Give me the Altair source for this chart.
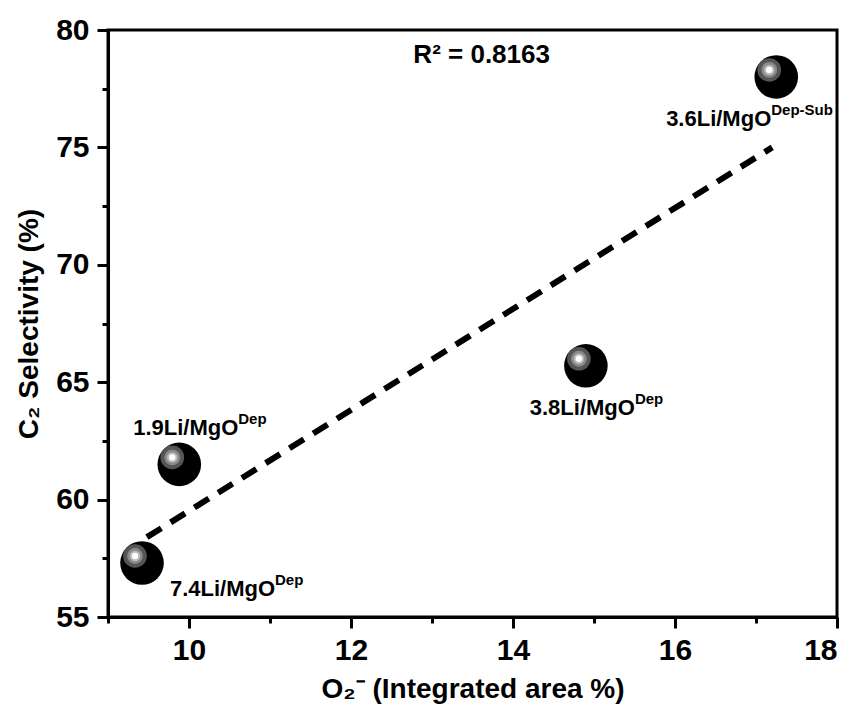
import altair as alt
import pandas as pd

# data
names = ["3.6Li/MgO", "3.8Li/MgO", "1.9Li/MgO", "7.4Li/MgO"]
sups = ["Dep-Sub", "Dep", "Dep", "Dep"]
x_vals = [17.25, 14.9, 9.88, 9.42]
y_vals = [78.0, 65.7, 61.5, 57.3]
# label offsets (px) relative to the point: right edge of the main text, baseline
lab_dx = [-5, 49, 59, 133]
lab_dy = [49, 49, -29, 33]

fit_x = [9.48, 17.2]
fit_y = [58.4, 75.0]

r2_text = ["R² = 0.8163"]
r2_x = [12.77]
r2_y = [78.6]

x_ticks = [9, 10, 11, 12, 13, 14, 15, 16, 17, 18]
y_ticks = [55, 57.5, 60, 62.5, 65, 67.5, 70, 72.5, 75, 77.5, 80]

pts = pd.DataFrame({"name": names, "sup": sups, "x": x_vals, "y": y_vals})
fit = pd.DataFrame({"x": fit_x, "y": fit_y})
r2 = pd.DataFrame({"t": r2_text, "x": r2_x, "y": r2_y})

FONT = "Liberation Sans"

xscale = alt.Scale(domain=[9, 18], nice=False, zero=False)
yscale = alt.Scale(domain=[55, 80], nice=False, zero=False)

xaxis = alt.Axis(
    values=x_ticks, format="d",
    labelExpr="datum.value % 2 === 0 ? datum.label : ''",
    tickSize={"condition": {"test": "datum.value % 2 === 0", "value": 11}, "value": 6},
    tickWidth=3, tickColor="black", domainColor="black", domainWidth=3,
    labelFont=FONT, labelFontSize=30, labelFontWeight="bold", labelColor="black",
    labelPadding=7, grid=False,
    title="O₂⁻ (Integrated area %)", titleFont=FONT, titleFontSize=28,
    titleFontWeight="bold", titleColor="black", titlePadding=10,
)
yaxis = alt.Axis(
    values=y_ticks,
    labelExpr="datum.value % 5 === 0 ? datum.label : ''",
    tickSize={"condition": {"test": "datum.value % 5 === 0", "value": 11}, "value": 6},
    tickWidth=3, tickColor="black", domainColor="black", domainWidth=3,
    labelFont=FONT, labelFontSize=30, labelFontWeight="bold", labelColor="black",
    labelPadding=8, grid=False,
    title="C₂ Selectivity (%)", titleFont=FONT, titleFontSize=28,
    titleFontWeight="bold", titleColor="black", titlePadding=12,
)

base = alt.Chart(pts)

line = alt.Chart(fit).mark_line(
    color="black", strokeWidth=6, strokeDash=[17, 11], strokeCap="butt"
).encode(
    x=alt.X("x:Q", scale=xscale, axis=xaxis),
    y=alt.Y("y:Q", scale=yscale, axis=yaxis),
)

enc = dict(x=alt.X("x:Q", scale=xscale), y=alt.Y("y:Q", scale=yscale))

ball = base.mark_point(filled=True, shape="circle", color="black", opacity=1,
                       size=1900).encode(**enc)
ring1 = base.mark_point(filled=True, shape="circle", color="#555555", opacity=1,
                        size=560, xOffset=-7, yOffset=-7).encode(**enc)
ring2 = base.mark_point(filled=True, shape="circle", color="#8a8a8a", opacity=1,
                        size=250, xOffset=-7, yOffset=-7).encode(**enc)
ring3 = base.mark_point(filled=True, shape="circle", color="#bdbdbd", opacity=1,
                        size=110, xOffset=-7, yOffset=-7).encode(**enc)
ring4 = base.mark_point(filled=True, shape="circle", color="white", opacity=1,
                        size=40, xOffset=-7, yOffset=-7).encode(**enc)

labels = []
for i in range(len(names)):
    sub = base.transform_filter(alt.datum.name == names[i])
    labels.append(sub.mark_text(font=FONT, fontSize=22, fontWeight="bold", color="black",
                                align="right", baseline="alphabetic",
                                dx=lab_dx[i], dy=lab_dy[i]).encode(**enc, text="name:N"))
    labels.append(sub.mark_text(font=FONT, fontSize=15, fontWeight="bold", color="black",
                                align="left", baseline="alphabetic",
                                dx=lab_dx[i], dy=lab_dy[i] - 11).encode(**enc, text="sup:N"))

r2_lab = alt.Chart(r2).mark_text(font=FONT, fontSize=26, fontWeight="bold",
                                 color="black", align="left",
                                 baseline="alphabetic").encode(
    x=alt.X("x:Q", scale=xscale), y=alt.Y("y:Q", scale=yscale), text="t:N")

chart = alt.layer(line, ball, ring1, ring2, ring3, ring4, *labels, r2_lab).properties(
    width=729, height=587,
    autosize=alt.AutoSizeParams(type="none"),
    padding={"left": 108, "top": 30, "right": 20, "bottom": 98},
    background="white",
).configure_view(stroke="black", strokeWidth=3)

chart.save("out.html", embed_options={"renderer": "svg", "actions": False})
